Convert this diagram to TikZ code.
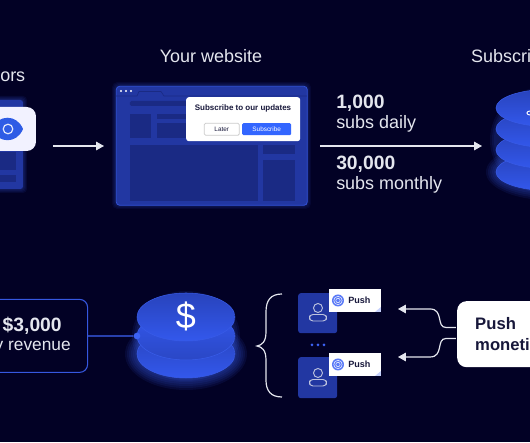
\documentclass[tikz,border=0pt]{standalone}
\usepackage{fontspec}
\setmainfont{Liberation Sans}
\usetikzlibrary{arrows.meta}
\definecolor{bg}{HTML}{020125}
\definecolor{panel}{HTML}{2237A2}
\definecolor{inner}{HTML}{1A2A84}
\definecolor{bright}{HTML}{3D63F5}
\definecolor{btn}{HTML}{3366FF}
\definecolor{diskhi}{HTML}{3358EC}
\definecolor{disklo}{HTML}{2843BC}
\definecolor{txt}{HTML}{E4E6EE}
\definecolor{dark}{HTML}{17173A}
\tikzset{
  x=1pt,y=-1pt,
  captxt/.style={text=txt,font=\fontsize{13.5}{15}\selectfont,inner sep=0pt},
  bignum/.style={text=txt,font=\fontsize{14.5}{16}\selectfont\bfseries,inner sep=0pt,anchor=west},
  subtxt/.style={text=txt,font=\fontsize{13.5}{15}\selectfont,inner sep=0pt,anchor=west},
  flow/.style={draw=txt,line width=0.9pt,-{Triangle[length=6pt,width=6.5pt]}},
  innerbox/.style={fill=inner,draw=none},
  diskshade/.style={top color=disklo,bottom color=diskhi,draw=bright!75!disklo,line width=0.4pt},
  diskshaderev/.style={top color=diskhi,bottom color=disklo!80!diskhi,draw=bright!80!disklo,line width=0.4pt},
}
\newcommand{\person}[2]{%
  \draw[txt!80!panel,line width=0.7pt] (#1,#2-4) circle (4.5);
  \draw[txt!80!panel,line width=0.7pt,rounded corners=2.6pt] (#1-8.5,#2+2.5) rectangle (#1+8.5,#2+9);
}
\newcommand{\pushtag}[3]{%
  \node[fill=white,minimum width=52pt,minimum height=23pt,inner sep=0pt,anchor=north west,scale=0.7509] (#3) at (#1,#2) {};
  \fill[bright!30] (#1+52,#2+23) -- (#1+46,#2+23) -- (#1+52,#2+18) -- cycle;
  \fill[bright!85] (#1+9,#2+11.5) circle (6);
  \draw[white,line width=0.35pt] (#1+9,#2+11.5) circle (4.2) (#1+9,#2+11.5) circle (2.2);
  \node[text=dark,font=\fontsize{6.8}{8}\selectfont\bfseries,inner sep=0pt,anchor=west] at (#1+19,#2+11.5) {Push};
}
\begin{document}
\begin{tikzpicture}
\useasboundingbox (0,0) rectangle (398,332);
\begin{scope}[scale=0.7509]
\fill[bg] (0,0) rectangle (530,442);

% Visitors card
\foreach \g in {4,3,2,1}{\fill[bright,opacity=0.08,rounded corners=3pt] (-10-\g,100-\g) rectangle (23+\g,189+\g);}
\fill[panel,rounded corners=2pt] (-10,100) rectangle (23,189);
\fill[inner] (0,152) rectangle (16,170);
\fill[inner] (0,175) rectangle (16,182);
\node[captxt,anchor=east] (visitors) at (25.5,77) {ors};
\fill[white!95!blue,rounded corners=7pt] (-20,107) rectangle (36,151);
\fill[btn!90!black] (-8,129) .. controls (-2,114) and (17,114) .. (23,129) .. controls (17,144) and (-2,144) .. (-8,129) -- cycle;
\draw[white!85!bright,line width=0.9pt] (8,129) circle (4.8);

% Website
\node[captxt] (web) at (211,56.5) {Your website};
\foreach \g in {4,3,2,1}{\fill[bright,opacity=0.07,rounded corners=4pt] (116-\g,86-\g) rectangle (307+\g,205+\g);}
\node[fill=panel,draw=bright!60!panel,line width=0.6pt,rounded corners=2.5pt,minimum width=191pt,minimum height=119pt,inner sep=0pt,anchor=north west,scale=0.7509] (site) at (116,86) {};
\foreach \d in {121,126,131}{\fill[white] (\d,91) circle (1.2);}
\draw[inner,line width=0.5pt] (116,96) -- (137,96) -- (139,91.5) -- (161,91.5) -- (164,96) -- (307,96);
\fill[inner,rounded corners=1pt] (130,101) rectangle (192,106);
\fill[innerbox] (130,114) rectangle (151,138);
\fill[innerbox] (157,114) rectangle (190,119);
\fill[innerbox] (157,123) rectangle (190,138);
\fill[innerbox] (130,145) rectangle (258,201);
\fill[innerbox] (263,145) rectangle (295,154);
\fill[innerbox] (263,160) rectangle (295,201);
\node[fill=white,rounded corners=2pt,minimum width=114pt,minimum height=44pt,inner sep=0pt,anchor=north west,scale=0.7509] (popup) at (186,97) {};
\node[text=dark,font=\fontsize{6}{8}\selectfont\bfseries,inner sep=0pt] (ptitle) at (243,108) {Subscribe to our updates};
\node[draw=black!20,fill=white,line width=0.6pt,rounded corners=1pt,text=dark,minimum width=35pt,minimum height=12pt,inner sep=0pt,anchor=north west,scale=0.7509] (later) at (204,123) {\fontsize{6.4}{8}\selectfont Later};
\node[fill=btn,rounded corners=1pt,text=white,minimum width=49pt,minimum height=12pt,inner sep=0pt,anchor=north west,scale=0.7509] (subs) at (242,123) {\fontsize{6.4}{8}\selectfont Subscribe};

% arrows
\coordinate (a1s) at (53,146);
\coordinate (a1e) at (104,146);
\draw[flow] (a1s) -- (a1e);
\coordinate (a2s) at (320,146);
\coordinate (a2e) at (482,146);
\draw[flow] (a2s) -- (a2e);

\node[bignum] (n1) at (336,103) {1,000};
\node[subtxt] (s1) at (336,124) {subs daily};
\node[bignum] (n2) at (336,164) {30,000};
\node[subtxt] (s2) at (336,185) {subs monthly};

% Subscribers stack
\node[captxt,anchor=west] (subscr) at (471,56.5) {Subscri};
\foreach \g in {10,8,6,4,2}{\fill[bright,opacity=0.09] (548,172) ellipse ({52+\g} and {18+\g});}
\foreach \g in {6,4,2}{\fill[bright,opacity=0.09] (548,140) ellipse ({52+\g} and {48+\g});}
\foreach \y in {172,150,129,108}{
  \path[diskshade] (548,\y) ellipse (52 and 18.5);
}
\draw[white,line width=0.7pt] (530,113) ellipse (3 and 2);

% Revenue
\node[draw=bright!75!panel,fill=bg,line width=0.8pt,rounded corners=6pt,minimum width=120pt,minimum height=73pt,inner sep=0pt,anchor=north east,scale=0.7509] (rev) at (88,299) {};
\node[text=txt,font=\fontsize{14.5}{16}\selectfont\bfseries,inner sep=0pt,anchor=east] (revn) at (62,326) {\$3,000};
\node[text=txt,font=\fontsize{13}{15}\selectfont,inner sep=0pt,anchor=east] (revs) at (71,347.5) {y revenue};

% Coin stack
\foreach \g in {12,10,8,6,4,2}{\fill[bright,opacity=0.09] (186,354) ellipse ({49+\g} and {24+\g});}
\foreach \g in {5,3,1}{\fill[bright,opacity=0.09] (186,336) ellipse ({49+\g} and {40+\g});}
\path[diskshade] (186,354) ellipse (49 and 24);
\path[diskshaderev] (186,336) ellipse (49 and 24);
\path[diskshade] (186,317) ellipse (49 and 24);
\node[text=white,font=\fontsize{27}{29}\selectfont,inner sep=0pt] (dollar) at (186,316) {\$};
\node[circle,fill=bright,minimum size=5pt,inner sep=0pt] (dot) at (137,336) {};
\draw[bright,line width=0.9pt] (rev.east |- dot) -- (dot);

% Brace
\coordinate (bt) at (282,294);
\coordinate (bb) at (282,397);
\coordinate (bm) at (257,346);
\draw[txt,line width=0.9pt] (bt) .. controls (271,294) and (266,300) .. (266,312) -- (266,332) .. controls (266,342) and (262,345) .. (bm) .. controls (262,347) and (266,350) .. (266,360) -- (266,380) .. controls (266,391) and (271,397) .. (bb);

% Users
\node[fill=panel,rounded corners=2pt,minimum width=39pt,minimum height=40pt,inner sep=0pt,anchor=north west,scale=0.7509] (u1) at (298,293) {};
\node[fill=panel,rounded corners=2pt,minimum width=39pt,minimum height=41pt,inner sep=0pt,anchor=north west,scale=0.7509] (u2) at (298,357) {};
\person{318}{312}
\person{318}{377}
\pushtag{329}{289}{p1}
\pushtag{329}{353}{p2}
\foreach \d in {312,318,324}{\fill[bright] (\d,345) circle (1.5);}

% Push monetization
\node[fill=white,rounded corners=7pt,minimum width=100pt,minimum height=66pt,inner sep=0pt,anchor=north west,scale=0.7509] (pm) at (457,301) {};
\node[text=dark,font=\fontsize{12.5}{15}\selectfont\bfseries,inner sep=0pt,anchor=west] (pm1) at (475,323.5) {Push};
\node[text=dark,font=\fontsize{12.5}{15}\selectfont\bfseries,inner sep=0pt,anchor=west] (pm2) at (475,345) {moneti};
\coordinate (pa1) at (398,309);
\coordinate (pa2) at (398,357);
\coordinate (ps1) at (456,327.5);
\coordinate (ps2) at (456,338.5);
\draw[flow] (ps1) -- (446,327.5) .. controls (436,327.5) and (444,309) .. (430,309) -- (pa1);
\draw[flow] (ps2) -- (446,338.5) .. controls (436,338.5) and (444,357) .. (430,357) -- (pa2);
\end{scope}
\end{tikzpicture}
\end{document}
